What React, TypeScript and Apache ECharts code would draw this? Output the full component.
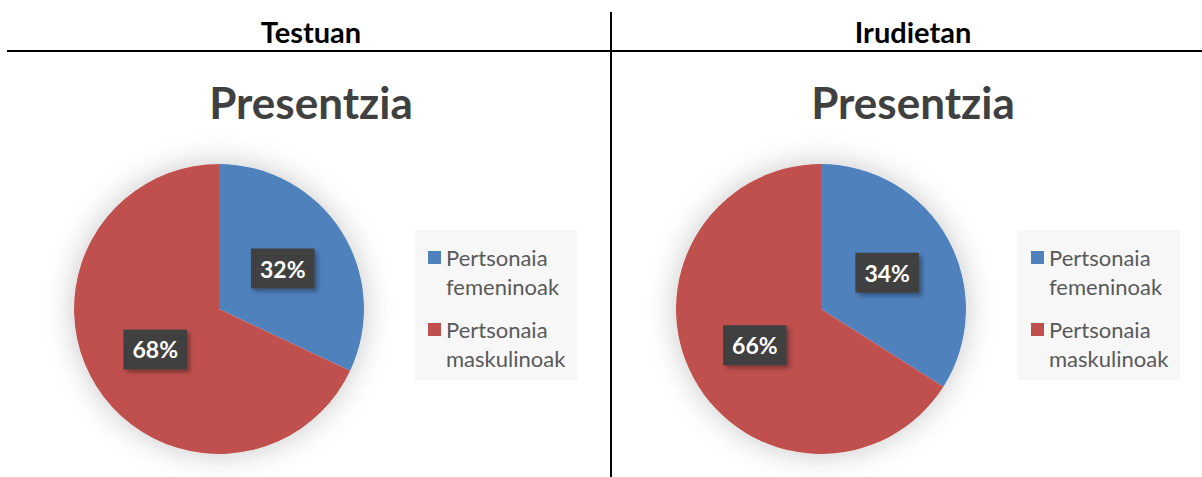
import React, { useEffect, useRef } from "react";
import * as echarts from "echarts";

const categories = ["Pertsonaia femeninoak", "Pertsonaia maskulinoak"];
const panelTitles = ["Testuan", "Irudietan"];
const chartTitle = "Presentzia";
const testuanValues = [32, 68];
const irudietanValues = [34, 66];
const colors = ["#4F81BD", "#C0504D"];

const FONT = "Lato, 'Open Sans', sans-serif";

export default function App() {
  const ref = useRef<HTMLDivElement>(null);
  useEffect(() => {
    const chart = echarts.init(ref.current!, undefined, { renderer: "svg" });
    const panels = [
      { cx: 219, cy: 309, titleX: 306, legendX: 415, values: testuanValues },
      { cx: 821, cy: 309, titleX: 908, legendX: 1018, values: irudietanValues },
    ];
    const series: any[] = [];
    panels.forEach((p) => {
      series.push({
        type: "pie",
        silent: true,
        center: [p.cx, p.cy],
        radius: 145,
        label: { show: false },
        labelLine: { show: false },
        itemStyle: { color: "#ffffff", shadowBlur: 30, shadowColor: "rgba(0,0,0,0.22)" },
        data: [{ name: "_shadow", value: 1 }],
        z: 1,
      });
      series.push({
        type: "pie",
        center: [p.cx, p.cy],
        radius: 145,
        startAngle: 90,
        clockwise: true,
        z: 2,
        itemStyle: { borderWidth: 0 },
        label: {
          show: true,
          position: "inside",
          formatter: (d: any) => d.value + "%",
          color: "#ffffff",
          fontFamily: FONT,
          fontWeight: "bold",
          fontSize: 23,
          backgroundColor: "#404040",
          padding: [9, 9, 8, 9],
          shadowBlur: 4,
          shadowOffsetX: 3,
          shadowOffsetY: 3,
          shadowColor: "rgba(0,0,0,0.35)",
        },
        labelLine: { show: false },
        data: categories.map((c, i) => ({
          name: c,
          value: p.values[i],
          itemStyle: { color: colors[i] },
        })),
      });
    });

    const legendIcon = "path://M0,8h13v13h-13zM0,0h0.001v0.001zM0,58h0.001v0.001z";

    chart.setOption({
      animation: false,
      backgroundColor: "#ffffff",
      title: [
        ...panels.map((p, i) => ({
          text: panelTitles[i],
          left: p.titleX,
          top: 12,
          textAlign: "center",
          textStyle: { fontFamily: FONT, fontWeight: "bold", fontSize: 29, color: "#000000" },
        })),
        ...panels.map((p) => ({
          text: chartTitle,
          left: p.titleX,
          top: 75,
          textAlign: "center",
          textStyle: { fontFamily: FONT, fontWeight: "bold", fontSize: 44, color: "#404040" },
        })),
      ],
      legend: panels.map((p) => ({
        orient: "vertical",
        left: p.legendX,
        top: 230,
        data: categories,
        icon: legendIcon,
        itemWidth: 13,
        itemHeight: 58,
        itemGap: 14,
        padding: [13, 12, 7, 13],
        backgroundColor: "#f7f7f7",
        selectedMode: false,
        formatter: (name: string) => name.replace(" ", "\n"),
        textStyle: { fontFamily: FONT, fontSize: 22, color: "#595959", lineHeight: 29 },
      })),
      series,
      graphic: [
        { type: "line", shape: { x1: 7, y1: 51, x2: 1202, y2: 51 }, style: { stroke: "#000", lineWidth: 2 } },
        { type: "line", shape: { x1: 611, y1: 12, x2: 611, y2: 477 }, style: { stroke: "#000", lineWidth: 2 } },
      ],
    });
    return () => chart.dispose();
  }, []);
  return (
    <div
      ref={ref}
      style={{ position: "absolute", left: 0, top: 0, width: 1202, height: 477 }}
    />
  );
}
